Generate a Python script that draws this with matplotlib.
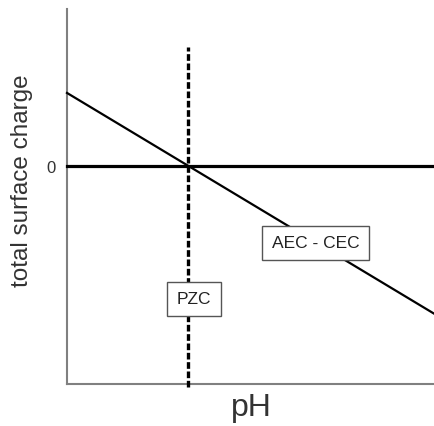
import matplotlib
matplotlib.use("Agg")
import matplotlib.pyplot as plt

# ---------- DATA ----------
ph = [0.0, 10.0]
charge = [0.335, -0.68]          # AEC - CEC line
pzc_ph = 3.3
pzc_span = [-1.015, 0.546]
zero_line = [0.0, 0.0]
# ---------------------------

plt.rcParams['font.family'] = ['Liberation Sans', 'DejaVu Sans']

fig = plt.figure(figsize=(4.35, 4.27), dpi=100)
ax = fig.add_axes([0.154, 0.0984, 0.846, 0.8782])

ax.set_xlim(0, 10)
ax.set_ylim(-1.0, 0.72)

# zero line
ax.plot(ph, zero_line, color="black", lw=2.3, clip_on=False, zorder=3)
# AEC - CEC
ax.plot(ph, charge, color="black", lw=1.6, clip_on=False, zorder=3)
# PZC dashed
ax.plot([pzc_ph, pzc_ph], pzc_span, color="black", lw=2.4,
        dashes=(2.0, 0.8), clip_on=False, zorder=3)

box = dict(boxstyle="square,pad=0.55", facecolor="white",
           edgecolor="#555555", lw=1.0)
ax.text(6.75, -0.353, "AEC - CEC", ha="center", va="center",
        fontsize=12.5, color="#222222", bbox=box, zorder=4)
ax.text(3.45, -0.61, "PZC", ha="center", va="center",
        fontsize=12.5, color="#222222", bbox=box, zorder=4)

# ---------- AXES ----------
for s in ["top", "right"]:
    ax.spines[s].set_visible(False)
for s in ["left", "bottom"]:
    ax.spines[s].set_color("#808080")
    ax.spines[s].set_linewidth(1.5)

ax.set_xticks([])
ax.set_yticks([0])
ax.set_yticklabels(["0"], fontsize=12, color="#333333")
ax.tick_params(axis="y", length=0, pad=8)

ax.set_xlabel("pH", fontsize=23, color="#333333", labelpad=6)
ax.set_ylabel("total surface charge", fontsize=17.5, color="#333333")
ax.yaxis.set_label_coords(-0.092, 0.544)

fig.savefig("out.png", dpi=100)
plt.close(fig)
